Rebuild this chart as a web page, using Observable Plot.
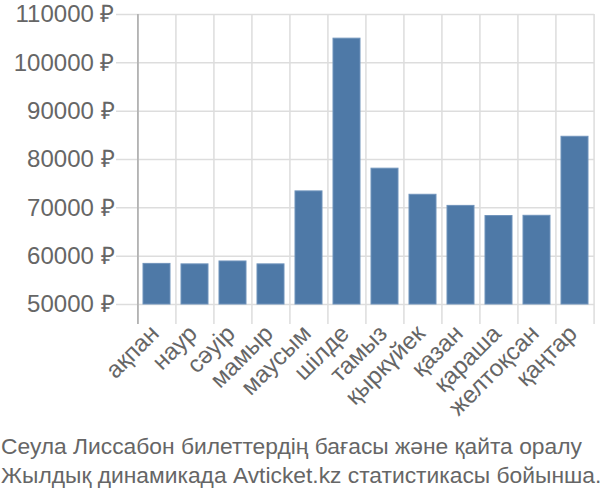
<!DOCTYPE html>
<html>
<head>
<meta charset="utf-8">
<script src="https://cdn.jsdelivr.net/npm/d3@7"></script>
<script src="https://cdn.jsdelivr.net/npm/@observablehq/plot@0.6"></script>
<style>
  body { margin: 0; background: #fff; font-family: "Liberation Sans", Arial, sans-serif; }
  #caption { color: #666; font-size: 22.8px; line-height: 29px; padding-top: 12px; padding-left: 1px; white-space: nowrap; }
</style>
</head>
<body>
<div id="chart"></div>
<div id="caption">Сеула Лиссабон билеттердің бағасы және қайта оралу<br>Жылдық динамикада Avticket.kz статистикасы бойынша.</div>
<script>
const months = ["ақпан", "наур", "сәуір", "мамыр", "маусым", "шілде", "тамыз", "қыркүйек", "қазан", "қараша", "желтоқсан", "қаңтар"];
const prices = [58400, 58300, 58900, 58300, 73400, 105000, 78100, 72700, 70400, 68300, 68350, 84700];
const yTicks = [50000, 60000, 70000, 80000, 90000, 100000, 110000];
const currency = "₽";

const data = months.map((m, i) => ({month: m, price: prices[i]}));
const W = 600, H = 420, ML = 136, MR = 6, MT = 14, MB = 116;
const step = (W - ML - MR) / months.length;
const yMin = yTicks[0], yMax = yTicks[yTicks.length - 1];

const chart = Plot.plot({
  width: W, height: H,
  marginLeft: ML, marginRight: MR, marginTop: MT, marginBottom: MB,
  style: {fontFamily: '"Liberation Sans", Arial, sans-serif', fontSize: "24px", color: "#666", background: "#fff"},
  x: {domain: months, paddingInner: 0.3, paddingOuter: 0.15, label: null},
  y: {domain: [yMin, yMax], label: null},
  marks: [
    Plot.ruleY(yTicks, {stroke: "#ddd", strokeWidth: 1.5, insetLeft: -20}),
    Plot.ruleX(months, {x: d => d, dx: -step / 2, y1: yMax, y2: yMin, stroke: "#ddd", strokeWidth: 1.5, insetBottom: -20}),
    Plot.ruleX(months.slice(-1), {x: d => d, dx: step / 2, y1: yMax, y2: yMin, stroke: "#ddd", strokeWidth: 1.5, insetBottom: -20}),
    Plot.barY(data, {x: "month", y1: yMin, y2: "price", fill: "#4e79a7", stroke: "#6f93bb", strokeWidth: 1}),
    Plot.ruleX(months.slice(0, 1), {x: d => d, dx: -step / 2, y1: yMax, y2: yMin, stroke: "#aaa", strokeWidth: 1.5, insetBottom: -20}),
    Plot.axisY({ticks: yTicks, tickSize: 0, tickPadding: 22, tickFormat: d => d + " " + currency, fill: "#666", fontSize: 24}),
    Plot.axisX({tickSize: 0, tickPadding: 25, dx: -2, tickRotate: -45, fill: "#666", fontSize: 24})
  ]
});
document.getElementById("chart").appendChild(chart);
</script>
</body>
</html>
